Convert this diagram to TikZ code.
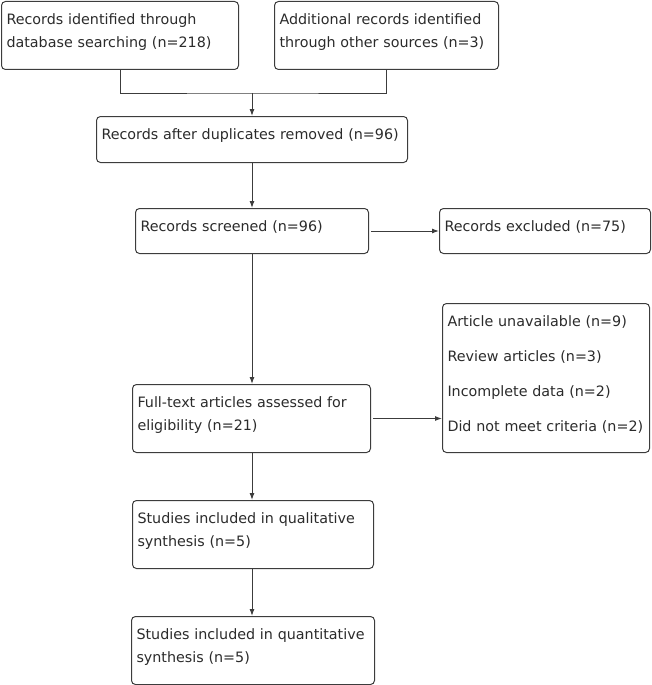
\documentclass[tikz,border=0pt]{standalone}
\usepackage{fontspec}
\setmainfont{DejaVu Sans}
\usetikzlibrary{arrows.meta}
\definecolor{linegray}{HTML}{3C3C3C}
\definecolor{textgray}{HTML}{2B2B2B}
\begin{document}
\begin{tikzpicture}[x=1pt, y=-1pt,
    stage/.style={draw=linegray, line width=1pt, rounded corners=4pt, anchor=north west,
      align=left, inner xsep=5pt, inner ysep=0pt, text height=23pt, text=textgray,
      font=\fontsize{14.3}{23}\selectfont},
    flow/.style={draw=linegray, line width=1pt, -{Latex[length=7pt,width=5pt]}}]
  \useasboundingbox (0,0) rectangle (651,685);

  % Identification
  \node[stage, text width=227pt, text depth=45pt] (dbsearch) at (1,1)
    {Records identified through\\database searching (n=218)};
  \node[stage, text width=214pt, text depth=45pt] (othersrc) at (274,1)
    {Additional records identified\\through other sources (n=3)};

  % Screening
  \node[stage, text width=301pt, text depth=23pt] (dedup) at (96,116)
    {Records after duplicates removed (n=96)};
  \node[stage, text width=223pt, text depth=22pt] (screened) at (135,208)
    {Records screened (n=96)};
  \node[stage, text width=201pt, text depth=22pt] (excluded) at (439,208)
    {Records excluded (n=75)};

  % Eligibility
  \node[stage, text width=228pt, text depth=45pt] (fulltext) at (132,384)
    {Full-text articles assessed for\\eligibility (n=21)};
  \node[stage, text width=197pt, text depth=126pt, font=\fontsize{14.3}{35}\selectfont] (reasons) at (442,303)
    {Article unavailable (n=9)\\Review articles (n=3)\\Incomplete data (n=2)\\Did not meet criteria (n=2)};

  % Included
  \node[stage, text width=231pt, text depth=45pt] (qualit) at (132,500)
    {Studies included in qualitative\\synthesis (n=5)};
  \node[stage, text width=233pt, text depth=45pt] (quantit) at (131,616)
    {Studies included in quantitative\\synthesis (n=5)};

  % Connectors
  \coordinate (joinlevel) at (0,93);
  \coordinate (merge) at (252,93);
  \draw[draw=linegray, line width=1pt] (dbsearch.south) |- (merge) -| (othersrc.south);
  \draw[flow] (merge) -- (dedup.north -| merge);
  \foreach \a/\b in {dedup/screened, screened/fulltext, fulltext/qualit, qualit/quantit} {
    \draw[flow] (\a.south -| merge) -- (\b.north -| merge);
  }
  \draw[flow] ([xshift=2pt]screened.east) -- (excluded.west |- screened.east);
  \draw[flow] ([xshift=2pt]fulltext.east) -- (reasons.west |- fulltext.east);
\end{tikzpicture}
\end{document}
